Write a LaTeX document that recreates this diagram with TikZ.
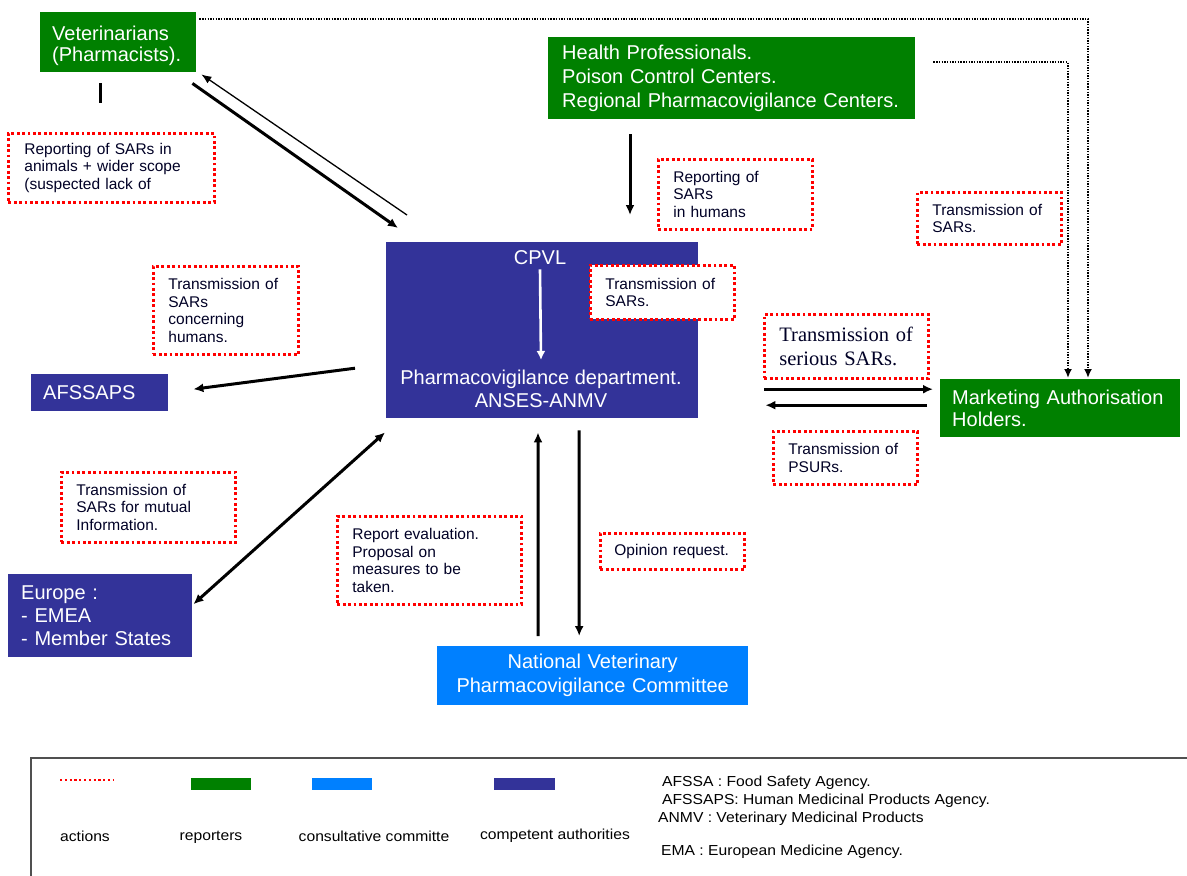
\documentclass[tikz,border=0pt]{standalone}
\usepackage{fontspec}
\setmainfont{Liberation Sans}
\newfontfamily\timesf{Liberation Serif}
\newfontfamily\legf[FakeStretch=1.08]{Liberation Sans}
\usetikzlibrary{arrows.meta,calc}
\definecolor{repgreen}{RGB}{0,128,0}
\definecolor{authblue}{RGB}{51,51,153}
\definecolor{comblue}{RGB}{0,128,255}
\definecolor{actred}{RGB}{255,0,0}
\definecolor{frame}{RGB}{80,80,80}
\tikzset{
 base/.style={anchor=north west, inner ysep=0pt, align=left},
 mainbox/.style={base, text=white, font=\fontsize{20}{23}\selectfont},
 grn/.style={mainbox, fill=repgreen},
 dkb/.style={mainbox, fill=authblue},
 ltb/.style={mainbox, fill=comblue},
 act/.style={base, draw=actred, line width=2.8pt, dash pattern=on 2.8pt off 2.6pt, fill=white, font=\fontsize{15.5}{17.5}\selectfont, text=black!85!blue},
 flow/.style={line width=3pt, -{Latex[length=10pt,width=9pt]}},
 flowtwo/.style={line width=3pt, {Latex[length=10pt,width=9pt]}-{Latex[length=10pt,width=9pt]}},
 thinflow/.style={line width=1.3pt, -{Latex[length=10pt,width=8pt]}},
 dots/.style={line width=2.2pt, dash pattern=on 1.4pt off 1.3pt, -{Latex[length=9pt,width=8pt]}},
 leg/.style={font=\legf\fontsize{14.5}{17}\selectfont, text=black, inner sep=0pt},
}
\begin{document}
\begin{tikzpicture}[x=1pt,y=-1pt]
\useasboundingbox (0,0) rectangle (1187,876);
\clip (0,0) rectangle (1187,876);

% reporters
\node[grn, minimum width=156pt, minimum height=60pt] (vet) at (40,12) {};
\node[text=white, font=\fontsize{20}{21}\selectfont, align=left, anchor=west, inner sep=0pt] (vett) at (52,46) {Veterinarians\\(Pharmacists).};
\node[grn, minimum width=367pt, minimum height=82pt, inner xsep=14pt, text width=339pt, font=\fontsize{20}{24}\selectfont] (health) at (548,37) {Health Professionals.\\Poison Control Centers.\\Regional Pharmacovigilance Centers.};
\node[grn, minimum width=240pt, minimum height=58pt, inner xsep=12pt, text width=216pt, font=\fontsize{20}{22}\selectfont] (mah) at (940,379) {Marketing Authorisation\\Holders.};

% competent authorities
\node[dkb, minimum width=312pt, minimum height=176pt] (cpvl) at (386,242) {};
\node[text=white, font=\fontsize{20}{23}\selectfont, inner sep=0pt] (cpvlt) at (540,258) {CPVL};
\node[text=white, font=\fontsize{20}{23}\selectfont, align=center, inner sep=0pt] (pvd) at (541,389) {Pharmacovigilance department.\\ANSES-ANMV};
\node[dkb, minimum width=137pt, minimum height=37pt, inner xsep=12pt, text width=113pt] (afssaps) at (31,374) {AFSSAPS};
\node[dkb, minimum width=184pt, minimum height=83pt, inner xsep=13pt, text width=158pt] (europe) at (8,574) {Europe :\\- EMEA\\- Member States};

% committee
\node[ltb, minimum width=311pt, minimum height=59pt, inner xsep=10pt, text width=291pt, align=center, font=\fontsize{20}{24}\selectfont] (nvpc) at (437,646) {National Veterinary\\Pharmacovigilance Committee};

% actions
\node[act, minimum width=206pt, minimum height=69pt, inner xsep=16pt, text width=174pt] (a1) at (7,132) {Reporting of SARs in\\animals + wider scope\\(suspected lack of};
\node[act, minimum width=154pt, minimum height=70pt, inner xsep=15pt, text width=124pt] (a2) at (657,158) {Reporting of\\SARs\\in humans};
\node[act, minimum width=144pt, minimum height=52pt, inner xsep=15pt, text width=114pt] (a3) at (916,191) {Transmission of\\SARs.};
\node[act, minimum width=144pt, minimum height=54pt, inner xsep=15pt, text width=114pt] (a4) at (589,264) {Transmission of\\SARs.};
\node[act, minimum width=145pt, minimum height=88pt, inner xsep=15pt, text width=115pt] (a5) at (152,265) {Transmission of\\SARs\\concerning\\humans.};
\node[act, minimum width=164pt, minimum height=64pt, inner xsep=15pt, text width=134pt, font=\timesf\fontsize{20.5}{24}\selectfont] (a6) at (763,313) {Transmission of\\serious SARs.};
\node[act, minimum width=144pt, minimum height=53pt, inner xsep=15pt, text width=114pt] (a7) at (772,430) {Transmission of\\PSURs.};
\node[act, minimum width=174pt, minimum height=70pt, inner xsep=15pt, text width=144pt] (a8) at (60,471) {Transmission of\\SARs for mutual\\Information.};
\node[act, minimum width=184pt, minimum height=88pt, inner xsep=15pt, text width=154pt] (a9) at (336,515) {Report evaluation.\\Proposal on\\measures to be\\taken.};
\node[act, minimum width=144pt, minimum height=36pt, inner xsep=14pt, text width=116pt] (a10) at (599,532) {Opinion request.};

% connectors
\draw[line width=3pt] ([shift={(60,11)}]vet.south west) -- ++(0,20);
\draw[flow] ([shift={(-4,11)}]vet.south east) -- ([shift={(12,-14)}]cpvl.north west);
\draw[thinflow] ([shift={(21,-27)}]cpvl.north west) -- ([shift={(5,2)}]vet.south east);
\draw[flow] ([shift={(82,15)}]health.south west) -- ([shift={(244,-27)}]cpvl.north west);
\draw[flow] ([shift={(-31,38)}]cpvl.west) -- ([shift={(25,-3.5)}]afssaps.east);
\draw[flowtwo] ([shift={(1,-11.5)}]europe.east) -- ([shift={(-1,14)}]cpvl.south west);
\draw[flow] ([shift={(-54.5,-10)}]nvpc.north) -- ([shift={(152,14)}]cpvl.south west);
\draw[flow] ([shift={(193,12)}]cpvl.south west) -- ([shift={(-13.5,-10)}]nvpc.north);
\draw[flow] ([shift={(66,59)}]cpvl.east) -- ([shift={(-7,-19)}]mah.west);
\draw[flow] ([shift={(-13,-3)}]mah.west) -- ([shift={(67,75)}]cpvl.east);
\draw[white, line width=2.6pt, -{Latex[length=9pt,width=9pt]}] ([yshift=-4pt]cpvlt.south) -- ([yshift=10pt]pvd.north);
\draw[dots] ([shift={(3,7)}]vet.north east) -| ([shift={(148,-1)}]mah.north west);
\draw[dots] ([shift={(18,-16)}]health.east) -| ([shift={(128,-1)}]mah.north west);

% legend
\draw[frame, line width=1.6pt] (31,758) rectangle (1220,900);
\draw[actred, line width=2.4pt, dash pattern=on 2.2pt off 2.6pt] (60,780) -- (113,780);
\node[fill=repgreen, minimum width=60pt, minimum height=12pt, inner sep=0pt, anchor=north west] (lg) at (191,778) {};
\node[fill=comblue, minimum width=60pt, minimum height=12pt, inner sep=0pt, anchor=north west] (lb) at (312,778) {};
\node[fill=authblue, minimum width=61pt, minimum height=12pt, inner sep=0pt, anchor=north west] (ld) at (494,778) {};
\node[leg] (l1) at (85,836) {actions};
\node[leg] (l2) at (211,837) {reporters};
\node[leg] (l3) at (374,836) {consultative committe};
\node[leg] (l4) at (555,836) {competent authorities};
\node[leg, anchor=west] (t1) at (662,783) {AFSSA : Food Safety Agency.};
\node[leg, anchor=west] (t2) at (662,801) {AFSSAPS: Human Medicinal Products Agency.};
\node[leg, anchor=west] (t3) at (658,819) {ANMV : Veterinary Medicinal Products};
\node[leg, anchor=west] (t4) at (661,852) {EMA : European Medicine Agency.};
\end{tikzpicture}
\end{document}
